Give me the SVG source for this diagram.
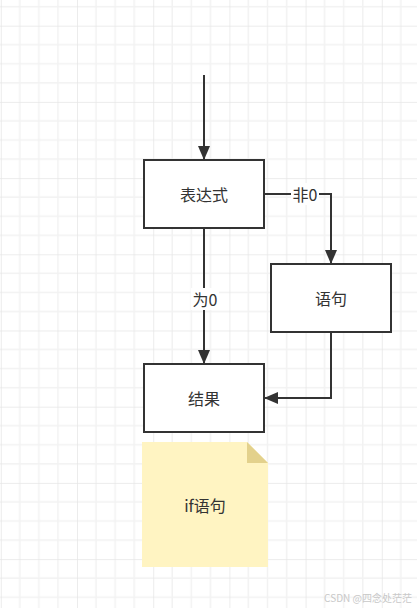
<svg xmlns="http://www.w3.org/2000/svg" width="417" height="608" viewBox="0 0 417 608">
  <defs>
    <pattern id="grid" patternUnits="userSpaceOnUse" x="0.8" y="25.7" width="76.2" height="76.2">
      <path d="M19.05 0V76.2M38.1 0V76.2M57.15 0V76.2M0 19.05H76.2M0 38.1H76.2M0 57.15H76.2" stroke="#f2f2f2" stroke-width="1.5" fill="none"/>
      <path d="M0 0V76.2M0 0H76.2" stroke="#e6e6e6" stroke-width="1.5" fill="none"/>
    </pattern>
    <marker id="arrow" viewBox="0 0 14 12" refX="14" refY="6" markerWidth="14" markerHeight="12" markerUnits="userSpaceOnUse" orient="auto">
      <path d="M0 0L14 6L0 12Z" fill="#333333"/>
    </marker>
    <style>
      .box { fill: #ffffff; stroke: #333333; stroke-width: 2; }
      .edge { fill: none; stroke: #333333; stroke-width: 2; }
      .label { font-family: "Noto Sans CJK SC", "Liberation Sans", sans-serif; font-size: 16px; fill: #333333; text-anchor: middle; dominant-baseline: central; }
      .lbl-bg { fill: #ffffff; }
    </style>
  </defs>
  <rect width="417" height="608" fill="#ffffff"/>
  <rect width="417" height="608" fill="url(#grid)"/>

  <g id="connectors">
    <path class="edge" d="M204 75V160" marker-end="url(#arrow)"/>
    <path class="edge" d="M204 228V364" marker-end="url(#arrow)"/>
    <path class="edge" d="M264 194H331V264" marker-end="url(#arrow)"/>
    <path class="edge" d="M331 332V398H264" marker-end="url(#arrow)"/>
    <g id="label-wei0">
      <rect class="lbl-bg" x="191" y="288" width="28" height="22"/>
      <text class="label" x="205" y="299">为0</text>
    </g>
    <g id="label-fei0">
      <rect class="lbl-bg" x="291" y="183" width="28" height="22"/>
      <text class="label" x="305" y="194">非0</text>
    </g>
  </g>

  <g id="node-expr">
    <rect class="box" x="144" y="160" width="120" height="68"/>
    <text class="label" x="204" y="194">表达式</text>
  </g>
  <g id="node-stmt">
    <rect class="box" x="271" y="264" width="120" height="68"/>
    <text class="label" x="331" y="298">语句</text>
  </g>
  <g id="node-result">
    <rect class="box" x="144" y="364" width="120" height="68"/>
    <text class="label" x="204" y="398">结果</text>
  </g>
  <g id="node-note">
    <path d="M142 442H247L268 463V567H142Z" fill="#fff4c2"/>
    <path d="M247 442L268 463H247Z" fill="#e3d18c"/>
    <text class="label" x="205" y="505">if语句</text>
  </g>

  <text x="412" y="597" font-family="Noto Sans CJK SC, Liberation Sans, sans-serif" font-size="10" fill="#c8c8c8" text-anchor="end" dominant-baseline="central">CSDN @四念处茫茫</text>
</svg>
